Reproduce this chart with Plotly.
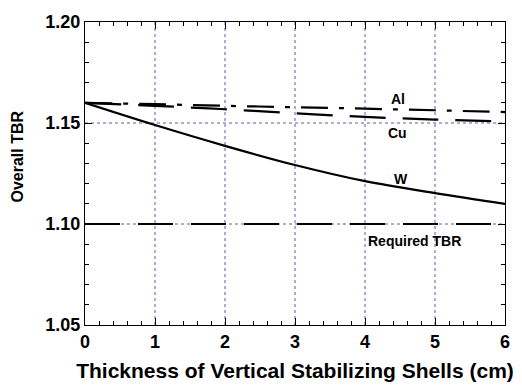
import plotly.graph_objects as go

thickness = [0, 1, 2, 3, 4, 5, 6]
tbr_al = [1.160, 1.1593, 1.1585, 1.1578, 1.1571, 1.1563, 1.1554]
tbr_cu = [1.160, 1.1585, 1.1568, 1.1548, 1.1530, 1.1517, 1.1507]
tbr_w = [1.160, 1.1490, 1.1387, 1.1292, 1.1212, 1.1153, 1.1100]
required_tbr = [1.10, 1.10, 1.10, 1.10, 1.10, 1.10, 1.10]

y_ticks = [1.05, 1.10, 1.15, 1.20]
x_ticks = [0, 1, 2, 3, 4, 5, 6]

labels = ["Al", "Cu", "W", "Required TBR"]
label_x = [4.47, 4.47, 4.51, 4.7]
label_y = [1.1617, 1.1449, 1.1225, 1.0918]

font = "Liberation Sans, Arial, sans-serif"
grid_col = "#5a5ab4"
xr = [x_ticks[0], x_ticks[-1]]
yr = [y_ticks[0], y_ticks[-1]]

fig = go.Figure()
fig.add_trace(go.Scatter(x=thickness, y=required_tbr, mode="lines",
                         line=dict(color="black", width=2.2, dash="35px,18px")))
fig.add_trace(go.Scatter(x=thickness, y=tbr_cu, mode="lines", line_shape="spline",
                         line=dict(color="black", width=2.2, dash="36px,17px")))
fig.add_trace(go.Scatter(x=thickness, y=tbr_al, mode="lines", line_shape="spline",
                         line=dict(color="black", width=2.2, dash="27px,11px,5px,11px")))
fig.add_trace(go.Scatter(x=thickness, y=tbr_w, mode="lines", line_shape="spline",
                         line=dict(color="black", width=2.2)))

# dotted grid at interior major ticks
for xv in x_ticks[1:-1]:
    fig.add_shape(type="line", xref="x", yref="paper", x0=xv, x1=xv, y0=0, y1=1, layer="below",
                  line=dict(color=grid_col, width=1, dash="dot"))
for yv in y_ticks[1:-1]:
    fig.add_shape(type="line", xref="paper", yref="y", x0=0, x1=1, y0=yv, y1=yv, layer="below",
                  line=dict(color=grid_col, width=1, dash="dot"))

for t, x, y in zip(labels, label_x, label_y):
    fig.add_annotation(x=x, y=y, text="<b>" + t + "</b>", showarrow=False,
                       font=dict(family=font, size=14, color="black"))

fig.add_annotation(xref="paper", yref="paper", x=0, y=0.556, xshift=-67, xanchor="center",
                   text="<b>Overall TBR</b>", textangle=-90, showarrow=False,
                   font=dict(family=font, size=16, color="black"))

fig.update_layout(
    width=522, height=390,
    margin=dict(l=85, r=14, t=15, b=62),
    plot_bgcolor="white", paper_bgcolor="white",
    showlegend=False,
    font=dict(family=font, color="black"),
)
fig.update_xaxes(
    range=xr, dtick=1,
    tickfont=dict(size=18, family=font, weight="bold"),
    title=dict(text="<b>Thickness of Vertical Stabilizing Shells (cm)</b>",
               font=dict(size=21, family=font), standoff=12),
    showline=True, linecolor="black", mirror="ticks",
    ticks="inside", ticklen=7, tickcolor="black",
    showgrid=False, zeroline=False,
    minor=dict(ticks="inside", ticklen=4, dtick=0.2, tickcolor="black"),
)
fig.update_yaxes(
    range=yr, dtick=0.05, tickformat=".2f",
    tickfont=dict(size=18, family=font, weight="bold"),
    showline=True, linecolor="black", mirror="ticks",
    ticks="inside", ticklen=7, tickcolor="black",
    showgrid=False, zeroline=False,
    minor=dict(ticks="inside", ticklen=4, dtick=0.01, tickcolor="black"),
)
fig.write_html("out.html")
